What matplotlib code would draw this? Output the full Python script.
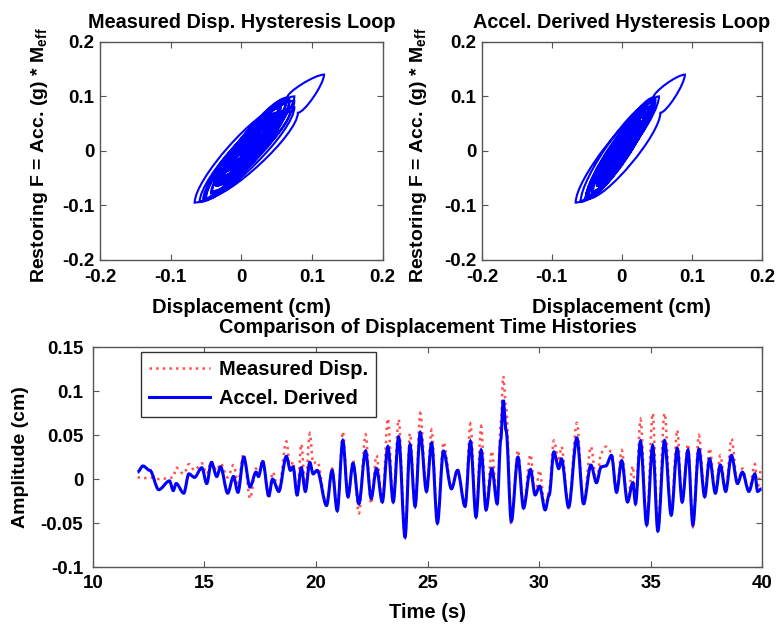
import numpy as np
import matplotlib
matplotlib.use('Agg')
import matplotlib.pyplot as plt
from matplotlib.path import Path
from matplotlib.patches import PathPatch
from matplotlib.lines import Line2D

plt.rcParams['font.family'] = 'Liberation Sans'
plt.rcParams['font.weight'] = 'bold'
plt.rcParams['mathtext.fontset'] = 'custom'
plt.rcParams['mathtext.rm'] = 'Liberation Sans:bold'
plt.rcParams['mathtext.bf'] = 'Liberation Sans:bold'

# peak / trough times (s)
time_s = [12.00, 12.24, 12.55, 12.95, 13.43, 13.60, 13.73, 14.07, 14.30, 14.55,
          14.88, 15.10, 15.31, 15.55, 15.72, 16.04, 16.30, 16.50, 16.76, 17.04,
          17.31, 17.42, 17.61, 17.88, 18.05, 18.33, 18.67, 18.85, 18.97, 19.15,
          19.34, 19.52, 19.72, 19.87, 20.05, 20.47, 20.72, 20.95, 21.20, 21.43,
          21.66, 21.92, 22.22, 22.47, 22.71, 22.97, 23.22, 23.46, 23.70, 23.99,
          24.21, 24.44, 24.67, 24.95, 25.18, 25.44, 25.71, 26.07, 26.34, 26.68,
          26.92, 27.17, 27.40, 27.62, 27.88, 28.12, 28.28, 28.39, 28.52, 28.75,
          29.05, 29.30, 29.61, 29.82, 30.02, 30.27, 30.45, 30.66, 30.88, 31.00,
          31.32, 31.69, 31.99, 32.32, 32.57, 32.78, 32.99, 33.24, 33.47, 33.70,
          33.96, 34.20, 34.32, 34.54, 34.82, 35.09, 35.32, 35.62, 35.92, 36.19,
          36.41, 36.67, 36.89, 37.16, 37.42, 37.64, 37.90, 38.12, 38.36, 38.62,
          38.89, 39.11, 39.40, 39.67, 39.79, 39.97]

# accel. derived displacement (cm)
accel_disp = [0.008, 0.015, 0.010, -0.012, -0.002, -0.013, -0.005, -0.016, 0.006, 0.002,
              0.013, -0.005, 0.019, 0.003, 0.014, -0.016, 0.003, -0.015, 0.025, -0.009,
              0.008, 0.003, 0.020, -0.019, 0.000, -0.014, 0.026, 0.010, 0.014, -0.018,
              0.013, -0.014, 0.019, 0.006, 0.010, -0.030, 0.010, -0.036, 0.044, -0.020,
              0.018, -0.028, 0.032, -0.022, 0.012, -0.026, 0.037, -0.026, 0.048, -0.066,
              0.039, -0.031, 0.053, -0.014, 0.041, -0.050, 0.032, -0.011, 0.010, -0.031,
              0.043, -0.043, 0.033, -0.035, 0.012, -0.028, 0.045, 0.090, 0.055, -0.048,
              0.025, -0.033, 0.011, -0.018, -0.008, -0.035, -0.018, 0.031, 0.012, 0.023,
              -0.032, 0.047, -0.028, 0.016, -0.004, 0.014, 0.015, 0.027, -0.015, 0.021,
              -0.026, -0.004, -0.028, 0.043, -0.052, 0.038, -0.059, 0.044, -0.041, 0.035,
              -0.026, 0.033, -0.052, 0.034, -0.020, 0.023, -0.016, 0.016, -0.014, 0.027,
              -0.005, 0.008, -0.014, 0.006, -0.014, -0.011]

# measured displacement (cm)
meas_disp = [0.002, 0.001, 0.002, 0.000, 0.001, 0.002, 0.013, 0.006, 0.017, 0.010,
             0.018, 0.006, 0.020, 0.010, 0.018, 0.002, 0.016, -0.004, 0.029, -0.022,
             0.012, 0.004, 0.022, -0.022, 0.008, -0.012, 0.043, 0.012, 0.020, -0.020,
             0.040, -0.012, 0.052, 0.018, 0.020, -0.030, 0.012, -0.037, 0.054, -0.022,
             0.022, -0.039, 0.051, -0.028, 0.027, -0.026, 0.069, -0.026, 0.068, -0.066,
             0.052, -0.033, 0.075, -0.014, 0.056, -0.050, 0.042, -0.010, 0.012, -0.031,
             0.063, -0.043, 0.060, -0.035, 0.032, -0.028, 0.065, 0.117, 0.080, -0.051,
             0.033, -0.033, 0.028, -0.018, 0.010, -0.035, -0.012, 0.044, 0.020, 0.037,
             -0.033, 0.064, -0.030, 0.037, -0.004, 0.030, 0.037, 0.031, -0.015, 0.033,
             -0.026, 0.015, -0.028, 0.068, -0.052, 0.075, -0.059, 0.075, -0.041, 0.056,
             -0.026, 0.040, -0.054, 0.050, -0.020, 0.035, -0.016, 0.027, -0.014, 0.046,
             -0.005, 0.012, -0.014, 0.017, -0.010, 0.014]

# restoring force, acc (g) * M_eff, at the same instants
force = [0.012, 0.026, 0.020, -0.022, 0.000, -0.024, -0.008, -0.030, 0.014, 0.002,
         0.026, -0.012, 0.035, 0.004, 0.028, -0.030, 0.008, -0.028, 0.046, -0.020,
         0.016, 0.004, 0.038, -0.036, 0.003, -0.028, 0.050, 0.018, 0.030, -0.034,
         0.028, -0.026, 0.038, 0.010, 0.022, -0.052, 0.022, -0.062, 0.082, -0.036,
         0.034, -0.050, 0.062, -0.040, 0.024, -0.046, 0.072, -0.048, 0.094, -0.095,
         0.078, -0.056, 0.100, -0.024, 0.082, -0.088, 0.064, -0.018, 0.022, -0.058,
         0.088, -0.078, 0.070, -0.064, 0.026, -0.052, 0.098, 0.140, 0.070, -0.088,
         0.050, -0.060, 0.022, -0.032, -0.012, -0.064, -0.030, 0.062, 0.024, 0.046,
         -0.058, 0.096, -0.050, 0.034, -0.006, 0.028, 0.030, 0.054, -0.026, 0.044,
         -0.048, -0.006, -0.050, 0.090, -0.090, 0.080, -0.094, 0.092, -0.074, 0.072,
         -0.046, 0.068, -0.090, 0.070, -0.036, 0.046, -0.028, 0.032, -0.026, 0.054,
         -0.008, 0.016, -0.026, 0.012, -0.024, -0.020]

lim_ticks = [-0.2, -0.1, 0, 0.1, 0.2]
lim_labels = ['-0.2', '-0.1', '0', '0.1', '0.2']


def time_curve(x, y):
    # smooth curve through peaks/troughs, flat at each extremum
    verts = [(x[0], y[0])]
    codes = [Path.MOVETO]
    for i in range(len(x) - 1):
        dx = x[i + 1] - x[i]
        verts += [(x[i] + dx / 3, y[i]), (x[i + 1] - dx / 3, y[i + 1]), (x[i + 1], y[i + 1])]
        codes += [Path.CURVE4] * 3
    return Path(verts, codes)


def loop_curve(x, y, k=0.25):
    # force leads displacement -> each half cycle bows into a loop
    verts = [(x[0], y[0])]
    codes = [Path.MOVETO]
    for i in range(len(x) - 1):
        dx = x[i + 1] - x[i]
        dy = y[i + 1] - y[i]
        verts += [(x[i], y[i] + k * dy), (x[i + 1] - k * dx, y[i + 1]), (x[i + 1], y[i + 1])]
        codes += [Path.CURVE4] * 3
    return Path(verts, codes)


fig = plt.figure(figsize=(7.81, 6.26), dpi=100)
ax1 = fig.add_axes([0.128, 0.585, 0.362, 0.348])
ax2 = fig.add_axes([0.617, 0.585, 0.3585, 0.348])
ax3 = fig.add_axes([0.119, 0.0942, 0.857, 0.351])

ylab = r'Restoring F = Acc. (g) * M$_{\mathbf{eff}}$'

for ax, xd, title, lx in [(ax1, meas_disp, 'Measured Disp. Hysteresis Loop', -0.177),
                          (ax2, accel_disp, 'Accel. Derived Hysteresis Loop', -0.189)]:
    ax.add_patch(PathPatch(loop_curve(xd, force), fill=False, edgecolor='#0000ff', lw=1.5))
    ax.set_xlim(-0.2, 0.2)
    ax.set_ylim(-0.2, 0.2)
    ax.set_xticks(lim_ticks)
    ax.set_xticklabels(lim_labels)
    ax.set_yticks(lim_ticks)
    ax.set_yticklabels(lim_labels)
    ax.set_title(title, fontweight='bold', fontsize=14.3, pad=10)
    ax.set_xlabel('Displacement (cm)', fontweight='bold', fontsize=14.5)
    ax.xaxis.set_label_coords(0.5, -0.175)
    ax.set_ylabel(ylab, fontweight='bold', fontsize=14)
    ax.yaxis.set_label_coords(lx, 0.48)
    ax.tick_params(axis='x', pad=6.5)
    ax.tick_params(axis='y', pad=4)

ax3.add_patch(PathPatch(time_curve(time_s, meas_disp), fill=False, edgecolor='#ff5050',
                        lw=1.8, ls=':'))
ax3.add_patch(PathPatch(time_curve(time_s, accel_disp), fill=False, edgecolor='#0000ff',
                        lw=2.2))
ax3.set_xlim(10, 40)
ax3.set_ylim(-0.1, 0.15)
ax3.set_xticks([10, 15, 20, 25, 30, 35, 40])
ax3.set_yticks([-0.1, -0.05, 0, 0.05, 0.1, 0.15])
ax3.set_yticklabels(['-0.1', '-0.05', '0', '0.05', '0.1', '0.15'])
ax3.set_title('Comparison of Displacement Time Histories', fontweight='bold', fontsize=14.3, pad=10.5)
ax3.set_xlabel('Time (s)', fontweight='bold', fontsize=14.5)
ax3.xaxis.set_label_coords(0.5, -0.165)
ax3.set_ylabel('Amplitude (cm)', fontweight='bold', fontsize=14)
ax3.yaxis.set_label_coords(-0.0957, 0.5)
ax3.tick_params(axis='x', pad=5.5)
ax3.tick_params(axis='y', pad=7)

handles = [Line2D([], [], color='#ff5050', lw=1.8, ls=':'),
           Line2D([], [], color='#0000ff', lw=2.2)]
leg = ax3.legend(handles, ['Measured Disp.', 'Accel. Derived'], loc='upper left',
                 bbox_to_anchor=(0.072, 0.977), borderaxespad=0, fontsize=14.5,
                 handlelength=3.0, handletextpad=0.45, fancybox=False,
                 edgecolor='#333333', framealpha=1)
leg.get_frame().set_linewidth(1.0)

for ax in (ax1, ax2, ax3):
    ax.tick_params(direction='in', top=True, right=True, length=4, width=0.8,
                   color='#555555', labelsize=13.5)
    for sp in ax.spines.values():
        sp.set_color('#555555')
        sp.set_linewidth(1.0)

fig.savefig('out.png', dpi=100)
